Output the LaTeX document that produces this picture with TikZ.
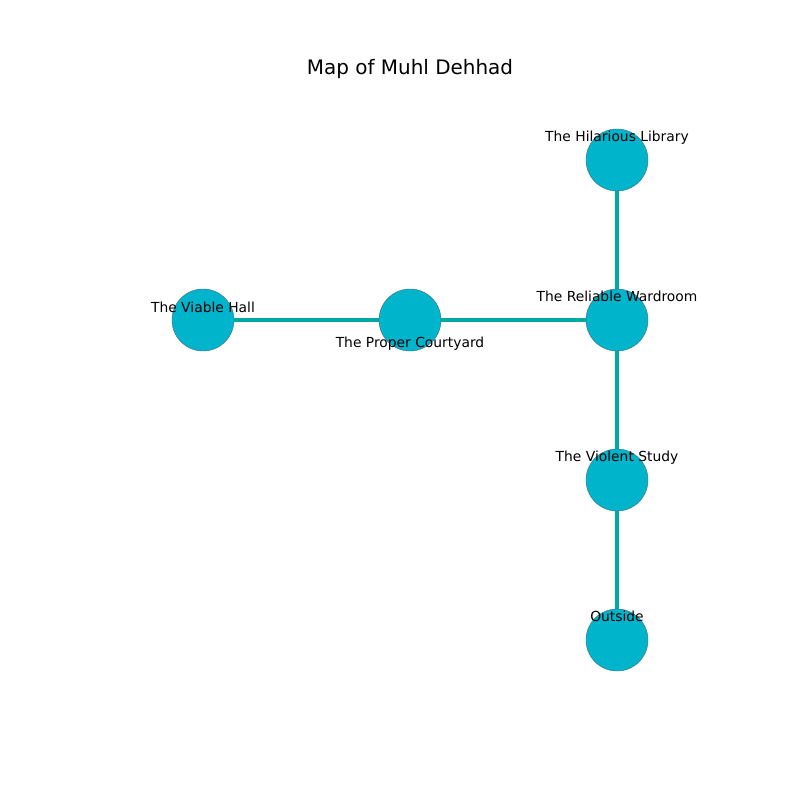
\documentclass[tikz,border=0pt]{standalone}
\usepackage{fontspec}
\setmainfont{DejaVu Sans}
\usetikzlibrary{backgrounds}
\definecolor{roomcyan}{RGB}{0, 180, 204}
\definecolor{doorteal}{RGB}{0, 168, 168}
\definecolor{rimgrey}{RGB}{70, 110, 120}
\tikzstyle{room} = [
  circle,
  minimum size=0.62in,
  inner sep=0pt,
  fill=roomcyan,
  draw=rimgrey,
  line width=0.3pt,
]
\tikzstyle{door} = [
  draw=doorteal,
  line width=0.045in,
]
\tikzstyle{roomlabel} = [
  font=\fontsize{10}{12}\selectfont,
  inner sep=0pt,
  anchor=base,
]

\begin{document}
\begin{tikzpicture}[x=0.01in, y=-0.01in]
            \useasboundingbox (0,0) rectangle (800,800);

            % Rooms
            \coordinate (library) at (617,160);
            \coordinate (wardroom) at (617,320);
            \coordinate (hall) at (203,320);
            \coordinate (courtyard) at (410,320);
            \coordinate (study) at (617,480);
            \coordinate (outside) at (617,640);

            % Doors
            \draw[door] (hall) -- (courtyard);
            \draw[door] (courtyard) -- (wardroom);
            \draw[door] (wardroom) -- (library);
            \draw[door] (wardroom) -- (study);
            \draw[door] (study) -- (outside);

            % Circles
            \node[room] (libraryC) at (library) {};
            \node[room] (wardroomC) at (wardroom) {};
            \node[room] (hallC) at (hall) {};
            \node[room] (courtyardC) at (courtyard) {};
            \node[room] (studyC) at (study) {};
            \node[room] (outsideC) at (outside) {};

            % Labels
            \node[roomlabel, yshift=0.18in] (libraryL) at (library) {The Hilarious Library};
            \node[roomlabel, yshift=0.18in] (wardroomL) at (wardroom) {The Reliable Wardroom};
            \node[roomlabel, yshift=0.07in] (hallL) at (hall) {The Viable Hall};
            \node[roomlabel, yshift=-0.27in] (courtyardL) at (courtyard) {The Proper Courtyard};
            \node[roomlabel, yshift=0.18in] (studyL) at (study) {The Violent Study};
            \node[roomlabel, yshift=0.18in] (outsideL) at (outside) {Outside};

            % Title
            \node[font=\fontsize{14.4}{17}\selectfont, inner sep=0pt, anchor=base] (title) at (410,75) {Map of Muhl Dehhad};
          \end{tikzpicture}
\end{document}
